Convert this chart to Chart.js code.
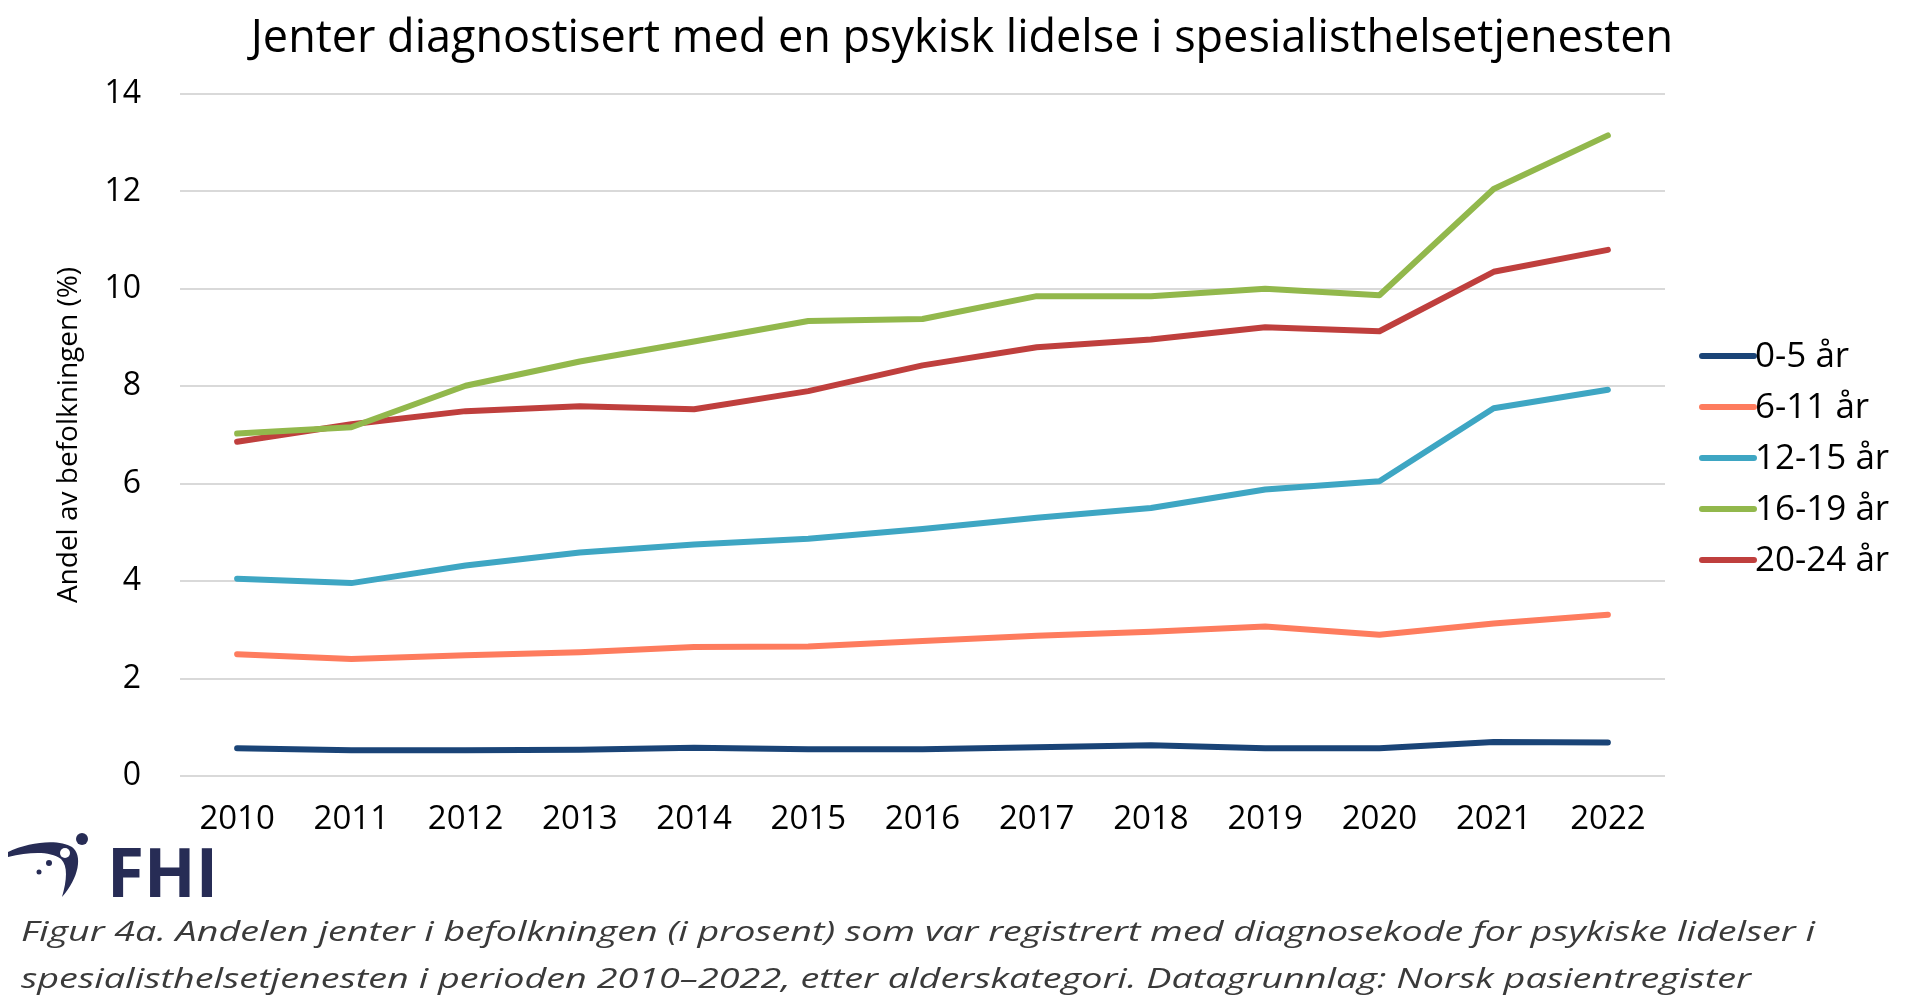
<!DOCTYPE html>
<html>
<head>
<meta charset="utf-8">
<script src="https://cdn.jsdelivr.net/npm/chart.js@4.4.1/dist/chart.umd.min.js"></script>
<style>
  html,body{margin:0;padding:0;background:#fff;}
  body{width:1920px;height:1000px;overflow:hidden;position:relative;font-family:'Open Sans',sans-serif;}
  #wrap{position:absolute;left:0;top:0;width:1920px;height:860px;}
  #foot{position:absolute;left:0;top:826px;}
</style>
</head>
<body>
<div id="wrap"><canvas id="c"></canvas></div>
<svg id="foot" width="1920" height="174" viewBox="0 826 1920 174" xmlns="http://www.w3.org/2000/svg">
  <g fill="#272c55">
    <path d="M8 852 C 30 841, 60 839, 72 847 C 83 855, 79 878, 62 897 C 67 880, 68 866, 61 859 C 50 851, 30 852, 8 857 Z"/>
    <circle cx="65" cy="853" r="5" fill="#fff"/>
    <circle cx="82" cy="839" r="6"/>
    <circle cx="49" cy="863" r="3"/>
    <circle cx="39" cy="872" r="2.5"/>
    <text x="107" y="897" font-family="Open Sans" font-weight="700" font-size="68" textLength="111" lengthAdjust="spacingAndGlyphs">FHI</text>
  </g>
  <g fill="#3a3a3a" font-family="Open Sans" font-style="italic" font-size="27">
    <text x="21" y="941" textLength="1794" lengthAdjust="spacingAndGlyphs">Figur 4a. Andelen jenter i befolkningen (i prosent) som var registrert med diagnosekode for psykiske lidelser i</text>
    <text x="21" y="988" textLength="1730" lengthAdjust="spacingAndGlyphs">spesialisthelsetjenesten i perioden 2010–2022, etter alderskategori. Datagrunnlag: Norsk pasientregister</text>
  </g>
</svg>
<script>
const titleText = 'Jenter diagnostisert med en psykisk lidelse i spesialisthelsetjenesten';
const yAxisTitle = 'Andel av befolkningen (%)';
const years = ['2010','2011','2012','2013','2014','2015','2016','2017','2018','2019','2020','2021','2022'];
const seriesNames = ['0-5 år','6-11 år','12-15 år','16-19 år','20-24 år'];
const seriesColors = ['#1a4477','#fe7c5e','#3ea6c3','#92b84c','#bf3f3d'];
const age0_5   = [0.57,0.53,0.53,0.54,0.58,0.55,0.55,0.59,0.63,0.57,0.57,0.70,0.69];
const age6_11  = [2.50,2.40,2.48,2.54,2.65,2.66,2.77,2.88,2.96,3.07,2.90,3.13,3.31];
const age12_15 = [4.05,3.96,4.32,4.59,4.75,4.87,5.07,5.30,5.50,5.88,6.05,7.55,7.93];
const age16_19 = [7.03,7.16,8.01,8.51,8.92,9.34,9.38,9.85,9.85,10.00,9.87,12.05,13.15];
const age20_24 = [6.86,7.22,7.49,7.59,7.53,7.90,8.43,8.80,8.96,9.21,9.13,10.35,10.80];
const yTicks = [0,2,4,6,8,10,12,14];

const seriesValues = [age0_5, age6_11, age12_15, age16_19, age20_24];

// Title centred over the whole figure (as in the reference)
const centredTitle = {
  id: 'centredTitle',
  afterDraw(chart) {
    const {ctx, width} = chart;
    ctx.save();
    ctx.font = '45px "Open Sans"';
    ctx.fillStyle = '#000';
    ctx.textAlign = 'center';
    ctx.textBaseline = 'middle';
    ctx.fillText(titleText, width / 2 + 2, 39);
    ctx.restore();
  }
};

const sideLegend = {
  id: 'sideLegend',
  afterDraw(chart) {
    const {ctx, chartArea} = chart;
    const x0 = chartArea.right + 37, len = 52;
    const step = 51;
    const y0 = chartArea.top + 262;
    ctx.save();
    ctx.font = '35px "Open Sans"';
    ctx.textBaseline = 'middle';
    ctx.textAlign = 'left';
    chart.data.datasets.forEach((ds, i) => {
      const y = y0 + i * step;
      ctx.strokeStyle = ds.borderColor;
      ctx.lineWidth = 6;
      ctx.lineCap = 'round';
      ctx.beginPath();
      ctx.moveTo(x0, y);
      ctx.lineTo(x0 + len, y);
      ctx.stroke();
      ctx.fillStyle = '#000';
      ctx.fillText(ds.label, x0 + len + 1, y + 1);
    });
    ctx.restore();
  }
};

function build() {
  Chart.defaults.font.family = '"Open Sans", sans-serif';
  new Chart(document.getElementById('c'), {
    type: 'line',
    data: {
      labels: years,
      datasets: seriesNames.map((name, i) => ({
        label: name,
        data: seriesValues[i],
        borderColor: seriesColors[i],
        backgroundColor: seriesColors[i],
        borderWidth: 6,
        pointRadius: 0,
        tension: 0,
        fill: false,
        borderCapStyle: 'round',
        borderJoinStyle: 'round'
      }))
    },
    options: {
      responsive: true,
      maintainAspectRatio: false,
      animation: false,
      layout: { padding: { left: 0, right: 255, top: 94, bottom: 0 } },
      plugins: {
        legend: { display: false },
        tooltip: { enabled: false },
        title: { display: false }
      },
      scales: {
        x: {
          offset: true,
          grid: { display: false, drawTicks: false },
          border: { display: false },
          ticks: { color: '#000', font: { size: 33 }, padding: 24, maxRotation: 0 },
          afterFit(s) { s.height = 84; }
        },
        y: {
          min: yTicks[0],
          max: yTicks[yTicks.length - 1],
          afterBuildTicks(s) { s.ticks = yTicks.map(v => ({ value: v })); },
          ticks: { color: '#000', font: { size: 32 }, padding: 39 },
          grid: { color: '#d9d9d9', lineWidth: 2, drawTicks: false },
          border: { display: false },
          title: {
            display: true,
            text: yAxisTitle,
            color: '#000',
            font: { size: 28 },
            padding: { top: 52, bottom: 0 }
          },
          afterFit(s) { s.width = 180; }
        }
      }
    },
    plugins: [centredTitle, sideLegend]
  });
}

Promise.all([
  document.fonts.load('30px "Open Sans"'),
  document.fonts.load('italic 27px "Open Sans"'),
  document.fonts.load('bold 62px "Open Sans"')
]).then(build, build);
</script>
</body>
</html>
